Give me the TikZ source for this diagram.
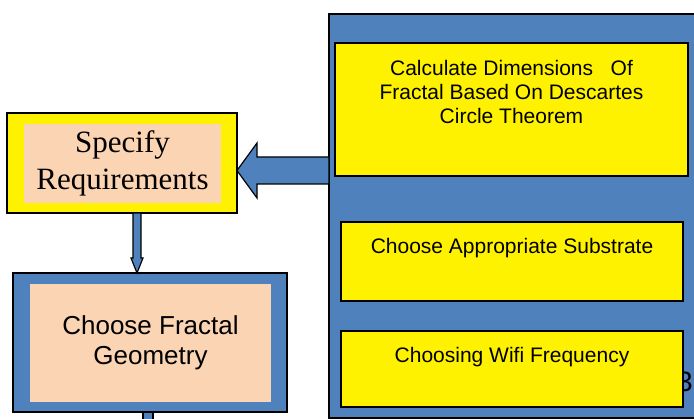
\documentclass[tikz,border=0pt]{standalone}
\usepackage{fontspec}
\setmainfont{Liberation Serif}
\setsansfont{Liberation Sans}
\usetikzlibrary{calc}
\definecolor{boxblue}{RGB}{79,129,189}
\definecolor{peach}{RGB}{251,212,180}

\begin{document}
\begin{tikzpicture}[x=1pt,y=-1pt,
    blockarrow/.style={fill=boxblue,draw=black,line width=1.2pt,line join=miter},
    steptext/.style={draw=none,align=center,font=\sffamily\fontsize{21}{24}\selectfont}]
  \useasboundingbox (0,0) rectangle (694,419);
  \begin{scope}[every node/.style={rectangle,draw=black,line width=1.5pt,inner sep=0pt,outer sep=0pt}]
    % right panel
    \node[fill=boxblue,minimum width=371,minimum height=404] (panel) at (514.5,216) {};
    \node[draw=none,anchor=base west,font=\sffamily\fontsize{28}{32}\selectfont] (num) at (677,392) {3};
    \node[fill=yellow,minimum width=353,minimum height=133] (calcbox) at (511.5,109.5) {};
    \node[fill=yellow,minimum width=342,minimum height=79] (subsbox) at (512,261.5) {};
    \node[fill=yellow,minimum width=342,minimum height=76] (wifibox) at (512,369) {};
    \node[steptext] (calctext) at (511.5,91.5) {Calculate Dimensions\ \ \ Of\\Fractal Based On Descartes\\Circle Theorem};
    \node[steptext] (substext) at (512,248) {Choose Appropriate Substrate};
    \node[steptext] (wifitext) at (512,357) {Choosing Wifi Frequency};
    % left column
    \node[fill=yellow,minimum width=230,minimum height=100] (spec) at (122,163) {};
    \node[fill=peach,draw=none,minimum width=197,minimum height=79,align=center,
      font=\rmfamily\fontsize{31}{37}\selectfont] (specin) at (122.5,163.5) {Specify\\Requirements};
    \node[fill=boxblue,minimum width=274,minimum height=139] (geom) at (150,342.5) {};
    \node[fill=peach,draw=none,minimum width=241,minimum height=118,align=center,
      font=\sffamily\fontsize{26}{30}\selectfont] (geomin) at (150.5,343) {Choose Fractal\\Geometry};
  \end{scope}
  \coordinate (la) at (0,170.5);
  \coordinate (da) at (137,0);
  \coordinate (db) at (148,0);
  \begin{scope}[every path/.style={blockarrow}]
    \path ($(spec.east |- la)$) -- ++(20,-27.5) -- ++(0,14) -- ($(panel.west |- la)+(0,-13.5)$)
      -- ++(0,27) -- ($(spec.east |- la)+(20,13.5)$) -- ++(0,14) -- cycle;
    \path ($(spec.south -| da)+(-4,0)$) -- ++(0,45) -- ++(-2,0) -- (geom.north -| da)
      -- ++(6,-15) -- ++(-2,0) -- ($(spec.south -| da)+(4,0)$) -- cycle;
    \path ($(geom.south -| db)+(-5,0)$) rectangle ++(10,15);
  \end{scope}
\end{tikzpicture}
\end{document}
